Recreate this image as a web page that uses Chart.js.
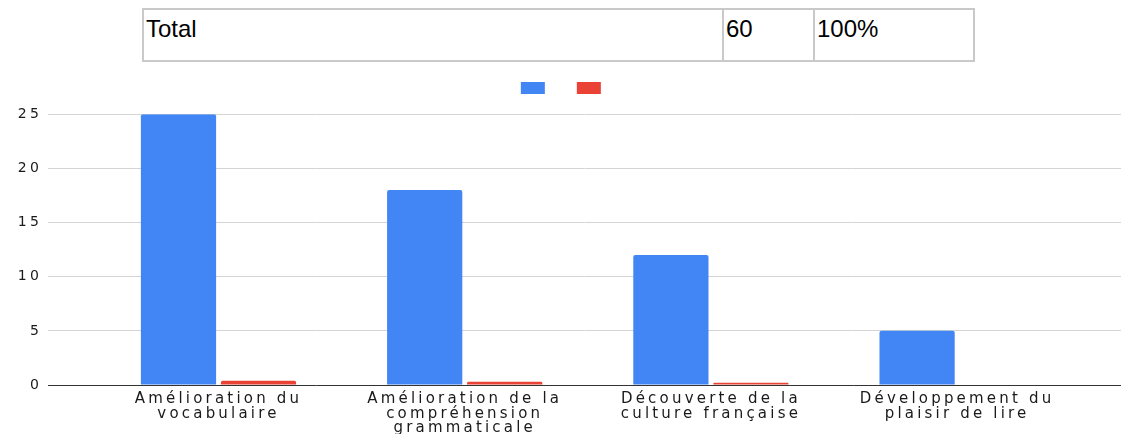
<!DOCTYPE html>
<html>
<head>
<meta charset="utf-8">
<script src="https://cdn.jsdelivr.net/npm/chart.js@4"></script>
<style>
  body { margin: 0; width: 1121px; height: 434px; overflow: hidden; background: #fff; font-family: 'Liberation Sans', Arial, sans-serif; }
  #total { position: absolute; left: 142px; top: 8px; border-collapse: collapse; font-size: 24px; color: #000; }
  #total td { border: 2px solid #c9c9c9; padding: 5px 2px 0 2px; vertical-align: top; height: 45px; }
  #wrap { position: absolute; left: 0; top: 56px; width: 1121px; height: 394px; }
</style>
</head>
<body>
<table id="total">
  <tr>
    <td style="width:574px">Total</td>
    <td style="width:85px">60</td>
    <td style="width:154px">100%</td>
  </tr>
</table>
<div id="wrap"><canvas id="chart"></canvas></div>
<script>
const categories = [
  ['Amélioration du', 'vocabulaire'],
  ['Amélioration de la', 'compréhension', 'grammaticale'],
  ['Découverte de la', 'culture française'],
  ['Développement du', 'plaisir de lire']
];
const seriesCount = [25, 18, 12, 5];
const seriesShare = [0.4, 0.3, 0.2, 0];
const yTicks = [0, 5, 10, 15, 20, 25];

const points = values => values.map((v, i) => ({ x: i, y: v }));

// wide lettering like the original export
const spacing = {
  id: 'spacing',
  beforeUpdate(chart) { chart.ctx.letterSpacing = '3.2px'; },
  beforeDraw(chart) { chart.ctx.letterSpacing = '3.2px'; }
};

new Chart(document.getElementById('chart'), {
  type: 'bar',
  data: {
    datasets: [
      { label: '', data: points(seriesCount), backgroundColor: '#4285f4', borderRadius: 2 },
      { label: '', data: points(seriesShare), backgroundColor: '#ea4335', borderRadius: 2 }
    ]
  },
  options: {
    responsive: true,
    maintainAspectRatio: false,
    animation: false,
    categoryPercentage: 0.65,
    barPercentage: 0.94,
    layout: { padding: { top: 0, right: 0, bottom: 0, left: 17 } },
    plugins: {
      legend: {
        labels: { boxWidth: 24, boxHeight: 12, padding: 15.7, font: { size: 32.6 } }
      },
      tooltip: { enabled: false }
    },
    scales: {
      x: {
        type: 'linear',
        offset: false,
        min: -0.6925,
        max: 3.6657,
        grid: { display: false, offset: false },
        border: { display: true, color: '#333', width: 1 },
        afterFit(scale) { scale.height = 65; },
        afterBuildTicks(scale) { scale.ticks = categories.map((c, i) => ({ value: i })); },
        ticks: {
          autoSkip: false,
          maxRotation: 0,
          padding: -1,
          color: '#1a1a1a',
          font: { family: 'DejaVu Sans, Verdana, sans-serif', size: 15, lineHeight: 0.97 },
          callback: v => categories[v] || ''
        }
      },
      y: {
        min: 0,
        max: 25,
        grid: { color: '#d4d4d4', drawTicks: false },
        border: { display: false },
        afterFit(scale) { scale.width = 31; },
        afterBuildTicks(scale) { scale.ticks = yTicks.map(v => ({ value: v })); },
        ticks: {
          padding: 6,
          color: '#1a1a1a',
          font: { family: 'DejaVu Sans, Verdana, sans-serif', size: 14 }
        }
      }
    }
  },
  plugins: [spacing]
});
</script>
</body>
</html>
